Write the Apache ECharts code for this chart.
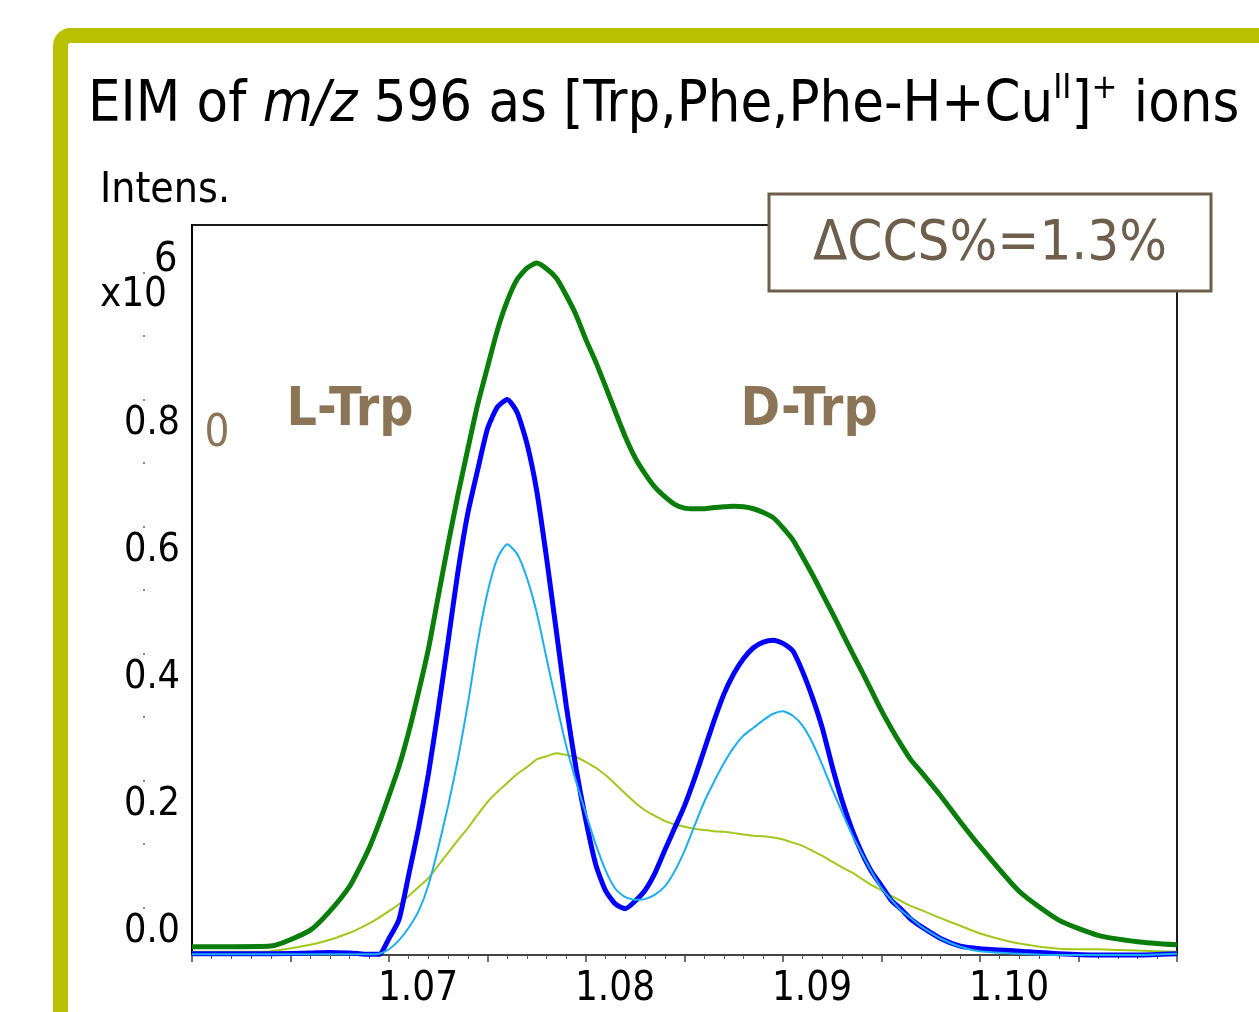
<!DOCTYPE html>
<html><head><meta charset="utf-8">
<script src="https://cdn.jsdelivr.net/npm/echarts@6/dist/echarts.min.js"></script>
<style>html,body{margin:0;padding:0;background:#fff}#chart{width:1259px;height:1012px}</style>
</head><body><div id="chart"></div>
<script>
// ---------------- data (1/K0 mobility axis, intensity x10^6) ----------------
const mobility = [1.060,1.062,1.064,1.066,1.067,1.068,1.0685,1.069,1.0695,1.070,1.0705,1.071,1.0715,1.072,1.0725,1.073,1.0735,1.074,1.0745,1.075,1.0755,1.076,1.0765,1.077,1.0775,1.078,1.0785,1.079,1.0795,1.080,1.0805,1.081,1.0815,1.082,1.0825,1.083,1.0835,1.084,1.0845,1.085,1.0855,1.086,1.0865,1.087,1.0875,1.088,1.0885,1.089,1.0895,1.090,1.0905,1.091,1.0915,1.092,1.0925,1.093,1.0935,1.094,1.0945,1.095,1.0955,1.096,1.0965,1.097,1.098,1.099,1.100,1.102,1.104,1.106,1.108,1.110];

const eimTotal = [-0.062,-0.062,-0.061,-0.036,-0.006,0.033,0.062,0.094,0.133,0.176,0.221,0.276,0.339,0.407,0.490,0.572,0.650,0.722,0.792,0.851,0.909,0.955,0.989,1.007,1.015,1.006,0.991,0.964,0.933,0.894,0.859,0.820,0.780,0.741,0.708,0.683,0.662,0.647,0.635,0.629,0.628,0.628,0.630,0.631,0.632,0.631,0.628,0.622,0.614,0.598,0.579,0.552,0.524,0.494,0.464,0.433,0.402,0.372,0.341,0.310,0.282,0.256,0.232,0.214,0.176,0.135,0.096,0.025,-0.020,-0.044,-0.054,-0.059];

const traceBlue = [-0.073,-0.073,-0.073,-0.072,-0.071,-0.072,-0.073,-0.074,-0.074,-0.049,-0.020,0.051,0.125,0.210,0.311,0.419,0.529,0.621,0.689,0.754,0.788,0.800,0.780,0.731,0.656,0.550,0.434,0.317,0.218,0.136,0.067,0.026,0.005,-0.002,0.010,0.027,0.054,0.090,0.125,0.160,0.202,0.248,0.294,0.336,0.368,0.392,0.409,0.418,0.421,0.416,0.404,0.371,0.330,0.282,0.222,0.168,0.123,0.086,0.056,0.034,0.011,-0.003,-0.019,-0.030,-0.049,-0.061,-0.065,-0.069,-0.073,-0.075,-0.075,-0.073];

const traceLightBlue = [-0.074,-0.074,-0.074,-0.074,-0.074,-0.074,-0.074,-0.074,-0.073,-0.066,-0.052,-0.032,-0.006,0.035,0.094,0.160,0.234,0.320,0.417,0.496,0.550,0.572,0.557,0.519,0.464,0.392,0.321,0.254,0.198,0.147,0.099,0.058,0.029,0.016,0.012,0.013,0.020,0.033,0.057,0.089,0.128,0.166,0.198,0.227,0.252,0.271,0.283,0.295,0.305,0.309,0.302,0.286,0.259,0.224,0.186,0.150,0.115,0.085,0.056,0.030,0.012,-0.005,-0.017,-0.030,-0.049,-0.062,-0.069,-0.073,-0.075,-0.075,-0.075,-0.073];

const traceYellowGreen = [-0.070,-0.070,-0.069,-0.059,-0.051,-0.040,-0.033,-0.025,-0.016,-0.006,0.005,0.018,0.032,0.046,0.066,0.086,0.106,0.125,0.146,0.166,0.182,0.196,0.210,0.221,0.233,0.238,0.243,0.240,0.237,0.229,0.220,0.208,0.194,0.179,0.165,0.153,0.144,0.136,0.131,0.127,0.124,0.122,0.120,0.119,0.117,0.115,0.113,0.112,0.110,0.107,0.102,0.097,0.089,0.081,0.072,0.063,0.055,0.045,0.035,0.027,0.018,0.010,0.002,-0.004,-0.017,-0.029,-0.041,-0.057,-0.065,-0.066,-0.068,-0.070];

const xTickValues = [1.07, 1.08, 1.09, 1.10];
const xTickLabels = ['1.07', '1.08', '1.09', '1.10'];
const yTickValues = [0, 0.2, 0.4, 0.6, 0.8];
const yTickLabels = ['0.0', '0.2', '0.4', '0.6', '0.8'];
const yDotValues = [0, 0.1, 0.2, 0.3, 0.4, 0.5, 0.6, 0.7, 0.8, 0.9, 1.0, 1.1];

// ---------------- fonts ----------------
const ctx = document.createElement('canvas').getContext('2d');
function fontAvailable(name) {
  const s = 'abcdefghijklmnopqrstuvwxyz0123456789ABCDEFGHIJ';
  return ['monospace', 'serif'].some(base => {
    ctx.font = '60px ' + base; const w0 = ctx.measureText(s).width;
    ctx.font = '60px "' + name + '", ' + base; return ctx.measureText(s).width !== w0;
  });
}
const NARROW = ['Liberation Sans Narrow', 'DejaVu Sans Condensed'].find(fontAvailable) || 'DejaVu Sans';
function mw(text, size, weight, style) {
  ctx.font = (style || 'normal') + ' ' + (weight || 'normal') + ' ' + size + 'px "' + NARROW + '"';
  return ctx.measureText(text).width;
}
function fit(text, target, weight) { return Math.round(target / mw(text, 100, weight) * 1000) / 10; }

const xLabSize = fit('1.07', 80);
const yLabSize = fit('0.8', 56);
const intensSize = fit('Intens.', 130);
const trpSize = fit('L-Trp', 127, 'bold');
const ccsSize = fit('\u0394CCS%=1.3%', 354);
const zeroSize = fit('0', 25);
const x10Size = fit('x10', 67);
const titleW = mw('EIM of ', 100) + mw('m/z', 100, 'normal', 'italic') + mw(' 596 as [Trp,Phe,Phe-H+Cu', 100) +
  mw('II', 60) + mw(']', 100) + mw('+', 60) + mw(' ions', 100);
const T = Math.round(1152 / titleW * 1000) / 10;

const brown = '#8c7556';
const boxBrown = '#6e5e4c';

const chart = echarts.init(document.getElementById('chart'), null, { renderer: 'canvas', width: 1259, height: 1012 });
const toPairs = arr => mobility.map((x, i) => [x, arr[i]]);
const pick = (vals, labels) => v => { const i = vals.findIndex(t => Math.abs(t - v) < 1e-9); return i >= 0 ? labels[i] : ''; };

chart.setOption({
  animation: false,
  backgroundColor: '#ffffff',
  grid: { left: 192, top: 225, right: 82, bottom: 57, containLabel: false, outerBoundsMode: 'none',
          show: true, borderColor: '#1a1a1a', borderWidth: 2 },
  xAxis: {
    type: 'value', min: 1.06, max: 1.11, interval: 0.005,
    axisLine: { show: true, onZero: false, lineStyle: { color: '#444', width: 2 } },
    axisTick: { show: true, length: 7, lineStyle: { color: '#444', width: 1.5 } },
    minorTick: { show: true, splitNumber: 5, length: 4, lineStyle: { color: '#555', width: 1 } },
    splitLine: { show: false }, minorSplitLine: { show: false },
    axisLabel: {
      customValues: xTickValues,
      formatter: pick(xTickValues, xTickLabels),
      color: '#000', fontFamily: NARROW, fontSize: xLabSize,
      align: 'center', padding: [0, 0, 0, 58], margin: Math.round(34.5 - xLabSize / 2)
    }
  },
  yAxis: [{
    type: 'value', min: -0.075, max: 1.075,
    axisLine: { show: true, onZero: false, lineStyle: { color: '#000', width: 2 } },
    axisTick: { show: false }, splitLine: { show: false },
    axisLabel: {
      customValues: yTickValues,
      formatter: v => '\n' + pick(yTickValues, yTickLabels)(v),
      color: '#000', fontFamily: NARROW, fontSize: yLabSize, lineHeight: 48, margin: 12
    }
  }, {
    type: 'value', min: -0.075, max: 1.075, position: 'left', offset: 47,
    axisLine: { show: false, onZero: false }, splitLine: { show: false }, axisLabel: { show: false },
    axisTick: { show: true, customValues: yDotValues, length: 2, lineStyle: { color: '#8a8a8a', width: 2 } }
  }],
  series: [
    { name: 'Component C', type: 'line', data: toPairs(traceYellowGreen), showSymbol: false, smooth: 0.2, clip: false, z: 2,
      lineStyle: { color: '#a2c81e', width: 2 } },
    { name: 'EIM total', type: 'line', data: toPairs(eimTotal), showSymbol: false, smooth: 0.2, clip: false, z: 3,
      lineStyle: { color: '#0a7d0a', width: 5 } },
    { name: 'Component A', type: 'line', data: toPairs(traceBlue), showSymbol: false, smooth: 0.2, clip: false, z: 4,
      lineStyle: { color: '#0000ff', width: 5 } },
    { name: 'Component B', type: 'line', data: toPairs(traceLightBlue), showSymbol: false, smooth: 0.2, clip: false, z: 5,
      lineStyle: { color: '#1eaef0', width: 2 } }
  ],
  graphic: [
    { type: 'rect', z: 100, shape: { x: 60.5, y: 35.5, width: 1400, height: 1200, r: 10 },
      style: { fill: 'none', stroke: '#b9c000', lineWidth: 15 } },
    { type: 'text', z: 100, x: 88, y: 106, style: {
        text: '{n|EIM of }{i|m/z}{n| 596 as [Trp,Phe,Phe-H+Cu}{s|II}{n|]}{s|+}{n| ions}',
        align: 'left', verticalAlign: 'middle',
        rich: {
          n: { fontFamily: NARROW, fontSize: T, lineHeight: T * 1.2, fill: '#000' },
          i: { fontFamily: NARROW, fontSize: T, fontStyle: 'italic', lineHeight: T * 1.2, fill: '#000' },
          s: { fontFamily: NARROW, fontSize: T * 0.6, lineHeight: T * 0.75, verticalAlign: 'top', fill: '#000' }
        } } },
    { type: 'text', z: 100, x: 100, y: 191, style: { text: 'Intens.', fontFamily: NARROW, fontSize: intensSize, fill: '#000', align: 'left', verticalAlign: 'middle' } },
    { type: 'text', z: 100, x: 167, y: 296, style: { text: 'x10', fontFamily: NARROW, fontSize: x10Size, fill: '#000', align: 'right', verticalAlign: 'middle' } },
    { type: 'text', z: 100, x: 154, y: 260, style: { text: '6', fontFamily: NARROW, fontSize: yLabSize * 1.05, fill: '#000', align: 'left', verticalAlign: 'middle' } },
    { type: 'text', z: 100, x: 350, y: 411, style: { text: 'L-Trp', fontFamily: NARROW, fontWeight: 'bold', fontSize: trpSize, fill: brown, align: 'center', verticalAlign: 'middle' } },
    { type: 'text', z: 100, x: 809, y: 411, style: { text: 'D-Trp', fontFamily: NARROW, fontWeight: 'bold', fontSize: trpSize, fill: brown, align: 'center', verticalAlign: 'middle' } },
    { type: 'text', z: 100, x: 217, y: 435, style: { text: '0', fontFamily: NARROW, fontSize: zeroSize, fill: brown, align: 'center', verticalAlign: 'middle' } },
    { type: 'rect', z: 100, shape: { x: 769, y: 194, width: 442, height: 97 },
      style: { fill: '#ffffff', stroke: boxBrown, lineWidth: 3 } },
    { type: 'text', z: 101, x: 990, y: 244, style: { text: '\u0394CCS%=1.3%', fontFamily: NARROW, fontSize: ccsSize, fill: boxBrown, align: 'center', verticalAlign: 'middle' } }
  ]
});
</script>
</body></html>
